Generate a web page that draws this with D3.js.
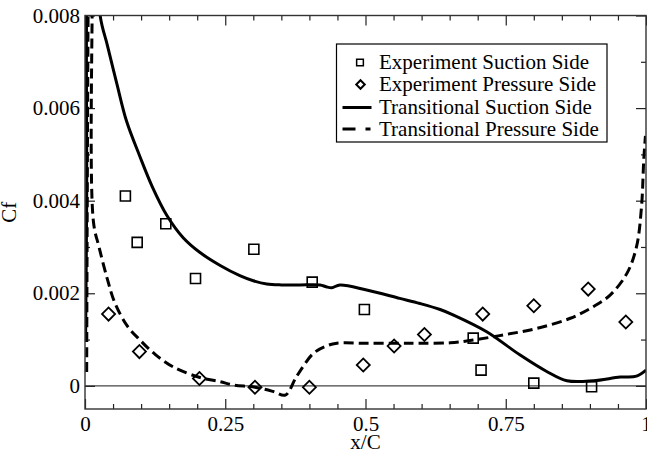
<!DOCTYPE html>
<html>
<head>
  <meta charset="utf-8">
  <title>Cf</title>
  <style>
    body { margin: 0; background: #fff; }
    text { font-family: "Liberation Serif", "DejaVu Serif", serif; fill: #000; }
  </style>
</head>
<body>
  <div id="plot"></div>
  <script src="https://cdn.jsdelivr.net/npm/d3@7"></script>
  <script>
    // experiment, suction side (squares)
    let expSucX = [0.072, 0.093, 0.144, 0.197, 0.301, 0.405, 0.498, 0.692, 0.706, 0.80, 0.903];
    let expSucY = [0.0041, 0.0031, 0.0035, 0.00232, 0.00295, 0.00224, 0.00165, 0.00103, 0.00034, 0.00006, -0.00002];

    // experiment, pressure side (diamonds)
    let expPreX = [0.042, 0.097, 0.204, 0.303, 0.400, 0.496, 0.551, 0.605, 0.709, 0.800, 0.897, 0.964];
    let expPreY = [0.00155, 0.00074, 0.00016, -0.00003, -0.00003, 0.00045, 0.00086, 0.00111, 0.00155, 0.00173, 0.00209, 0.00138];

    // transitional, suction side (solid)
    let trSucX = [0.001, 0.003, 0.004, 0.010, 0.020, 0.027, 0.040, 0.0565, 0.074, 0.098, 0.120, 0.146, 0.175, 0.205, 0.241, 0.276, 0.300, 0.324, 0.350, 0.383, 0.419, 0.430, 0.440, 0.4545, 0.502, 0.561, 0.597, 0.633, 0.657, 0.716, 0.775, 0.823, 0.859, 0.906, 0.954, 0.983, 1.0];
    let trSucY = [0.00095, 0.004, 0.009, 0.010, 0.010, 0.0080, 0.00735, 0.00654, 0.00572, 0.00495, 0.0043, 0.00368, 0.0032, 0.00288, 0.0026, 0.00238, 0.00227, 0.0022, 0.00218, 0.00218, 0.00218, 0.00214, 0.00212, 0.00218, 0.00207, 0.00189, 0.00178, 0.00165, 0.00153, 0.00117, 0.00067, 0.00031, 0.00011, 0.00011, 0.00019, 0.00021, 0.00034];

    // transitional, pressure side (dashed)
    let trPreX = [0.003, 0.0075, 0.010, 0.0135, 0.0150, 0.025, 0.040, 0.053, 0.075, 0.098, 0.125, 0.157, 0.205, 0.241, 0.264, 0.303, 0.335, 0.357, 0.377, 0.407, 0.430, 0.449, 0.502, 0.561, 0.597, 0.651, 0.692, 0.746, 0.805, 0.865, 0.906, 0.936, 0.966, 0.983, 0.992, 0.996, 0.999];
    let trPreY = [0.0003, 0.011, 0.012, 0.010, 0.00355, 0.0030, 0.0023, 0.0018, 0.0013, 0.00099, 0.00068, 0.00041, 0.00018, 0.00009, 0.00002, -0.00003, -0.00012, -0.00020, 0.00020, 0.00070, 0.00086, 0.00092, 0.00092, 0.00092, 0.00092, 0.00093, 0.00099, 0.00110, 0.00124, 0.00146, 0.00171, 0.00196, 0.00243, 0.0030, 0.00387, 0.00488, 0.0054];

    let xTicks = [0, 0.25, 0.5, 0.75, 1];
    let xTickLabels = ['0', '0.25', '0.5', '0.75', '1'];
    let yTicks = [0, 0.002, 0.004, 0.006, 0.008];
    let yTickLabels = ['0', '0.002', '0.004', '0.006', '0.008'];
    let legendLabels = ['Experiment Suction Side', 'Experiment Pressure Side', 'Transitional Suction Side', 'Transitional Pressure Side'];

    function translate(x, y) {
      return 'translate(' + x + ',' + y + ')';
    }

    let svgWidth = 647, svgHeight = 452;
    let margin = {top: 15.5, right: 1, bottom: 43, left: 85};
    let width = svgWidth - margin.left - margin.right;
    let height = svgHeight - margin.top - margin.bottom;
    let fontSize = '21px';

    let svg = d3.select('#plot')
      .append('svg')
        .attr('width', svgWidth)
        .attr('height', svgHeight)
      .append('g')
        .attr('transform', translate(margin.left, margin.top));

    let x = d3.scaleLinear().domain([0, 1]).range([0, width]);
    let y = d3.scaleLinear().domain([-0.0005, 0.008]).range([height, 0]);

    svg.append('clipPath').attr('id', 'clip')
      .append('rect').attr('width', width).attr('height', height);

    // zero line
    svg.append('line')
      .attr('x1', 0).attr('x2', width)
      .attr('y1', y(0)).attr('y2', y(0))
      .style('stroke', '#444').style('stroke-width', 1.2);

    // minor tick values
    let xMinor = d3.range(0, 1.0001, 0.05).filter(v => Math.abs(v * 4 - Math.round(v * 4)) > 1e-6);
    let yMinor = [0.001, 0.003, 0.005, 0.007];

    function styleAxis(g) {
      g.select('.domain').remove();
      g.selectAll('line').style('stroke', '#222').style('stroke-width', 1.2);
      g.selectAll('text').style('font-family', '"Liberation Serif", serif').style('font-size', fontSize).style('fill', '#000');
    }

    // bottom
    svg.append('g').attr('transform', translate(0, height))
      .call(d3.axisBottom(x).tickValues(xTicks).tickSize(-10).tickPadding(7)
        .tickFormat((d, i) => xTickLabels[i]))
      .call(styleAxis);
    svg.append('g').attr('transform', translate(0, height))
      .call(d3.axisBottom(x).tickValues(xMinor).tickSize(-5).tickFormat(''))
      .call(styleAxis);
    // top
    svg.append('g')
      .call(d3.axisTop(x).tickValues(xTicks).tickSize(-10).tickFormat(''))
      .call(styleAxis);
    svg.append('g')
      .call(d3.axisTop(x).tickValues(xMinor).tickSize(-5).tickFormat(''))
      .call(styleAxis);
    // left
    svg.append('g')
      .call(d3.axisLeft(y).tickValues(yTicks).tickSize(-10).tickPadding(5)
        .tickFormat((d, i) => yTickLabels[i]))
      .call(styleAxis);
    svg.append('g')
      .call(d3.axisLeft(y).tickValues(yMinor).tickSize(-5).tickFormat(''))
      .call(styleAxis);
    // right
    svg.append('g').attr('transform', translate(width, 0))
      .call(d3.axisRight(y).tickValues(yTicks).tickSize(-10).tickFormat(''))
      .call(styleAxis);
    svg.append('g').attr('transform', translate(width, 0))
      .call(d3.axisRight(y).tickValues(yMinor).tickSize(-5).tickFormat(''))
      .call(styleAxis);

    // curves
    let line = d3.line()
      .x(d => x(d[0]))
      .y(d => y(d[1]))
      .curve(d3.curveCatmullRom.alpha(0.5));

    let plot = svg.append('g').attr('clip-path', 'url(#clip)');

    plot.append('path')
      .datum(d3.zip(trSucX, trSucY))
      .attr('d', line)
      .style('fill', 'none').style('stroke', '#000').style('stroke-width', 3);

    plot.append('path')
      .datum(d3.zip(trPreX, trPreY))
      .attr('d', line)
      .style('fill', 'none').style('stroke', '#000').style('stroke-width', 3)
      .style('stroke-dasharray', '10,5');

    // experiment symbols
    let square = d3.symbol().type(d3.symbolSquare).size(100);
    let diamond = d3.symbol().type(d3.symbolSquare).size(85);

    plot.selectAll('.sq')
      .data(d3.zip(expSucX, expSucY))
      .enter()
      .append('path')
        .attr('class', 'sq')
        .attr('d', square)
        .attr('transform', d => translate(x(d[0]), y(d[1])))
        .style('fill', 'none').style('stroke', '#000').style('stroke-width', 1.6);

    plot.selectAll('.dm')
      .data(d3.zip(expPreX, expPreY))
      .enter()
      .append('path')
        .attr('class', 'dm')
        .attr('d', diamond)
        .attr('transform', d => translate(x(d[0]), y(d[1])) + ' rotate(45)')
        .style('fill', 'none').style('stroke', '#000').style('stroke-width', 1.8);

    // frame
    svg.append('rect')
      .attr('width', width).attr('height', height)
      .style('fill', 'none').style('stroke', '#333').style('stroke-width', 1.4);

    // axis labels
    svg.append('text')
      .attr('x', width / 2).attr('y', height + 40)
      .style('text-anchor', 'middle').style('font-size', fontSize)
      .text('x/C');

    svg.append('text')
      .attr('transform', translate(-69, height / 2) + ' rotate(-90)')
      .style('text-anchor', 'middle').style('font-size', fontSize)
      .text('Cf');

    // legend
    let lg = svg.append('g').attr('transform', translate(336.5 - margin.left, 44 - margin.top));
    lg.append('rect')
      .attr('width', 270.5).attr('height', 98)
      .style('fill', '#fff').style('stroke', '#000').style('stroke-width', 1.2);

    let rowY = [18.5, 40.5, 63.5, 85];
    let legend = lg.selectAll('.legend')
      .data(legendLabels)
      .enter()
      .append('g')
        .attr('class', 'legend')
        .attr('transform', (d, i) => translate(0, rowY[i]));

    legend.append('text')
      .attr('x', 42.5)
      .attr('dy', '0.33em')
      .style('font-size', fontSize)
      .text(d => d);

    let lgSquare = d3.symbol().type(d3.symbolSquare).size(45);
    let lgDiamond = d3.symbol().type(d3.symbolSquare).size(36);
    legend.filter((d, i) => i === 0).append('path')
      .attr('d', lgSquare).attr('transform', translate(23.5, 0))
      .style('fill', 'none').style('stroke', '#000').style('stroke-width', 1.5);
    legend.filter((d, i) => i === 1).append('path')
      .attr('d', lgDiamond).attr('transform', translate(24, 0) + ' rotate(45)')
      .style('fill', 'none').style('stroke', '#000').style('stroke-width', 2);
    legend.filter((d, i) => i === 2).append('line')
      .attr('x1', 6).attr('x2', 35)
      .style('stroke', '#000').style('stroke-width', 3);
    legend.filter((d, i) => i === 3).append('line')
      .attr('x1', 6).attr('x2', 34)
      .style('stroke', '#000').style('stroke-width', 3)
      .style('stroke-dasharray', '13,10');
  </script>
</body>
</html>
